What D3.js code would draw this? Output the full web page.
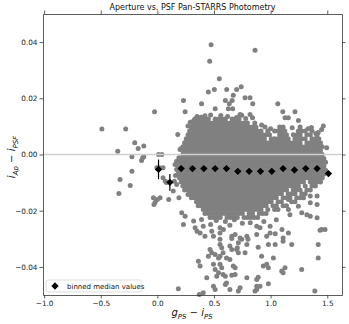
<!DOCTYPE html>
<html>
<head>
<meta charset="utf-8">
<script src="https://cdn.jsdelivr.net/npm/d3@7"></script>
<style>
  body { margin: 0; background: #fff; }
  svg { font-family: "DejaVu Sans", sans-serif; }
  .tick text { font-size: 7.3px; fill: #222; }
</style>
</head>
<body>
<div id="chart"></div>
<script>
// -------------------------------------------------------------------------
// Data

const xTicks = [-1.0, -0.5, 0.0, 0.5, 1.0, 1.5];
const yTicks = [-0.04, -0.02, 0.0, 0.02, 0.04];

// binned medians of i_Ap - i_PSF
const binCenters = [0.01, 0.11, 0.21, 0.31, 0.41, 0.51, 0.61, 0.71, 0.81, 0.91, 1.01, 1.11, 1.21, 1.31, 1.41, 1.51];
const binMedians = [-0.0053, -0.0099, -0.005, -0.005, -0.005, -0.005, -0.005, -0.006, -0.006, -0.006, -0.006, -0.005, -0.0055, -0.005, -0.005, -0.0068];
const binErrors = [0.0035, 0.003, 0.0008, 0.0006, 0.0005, 0.0005, 0.0005, 0.0005, 0.0005, 0.0005, 0.0006, 0.0006, 0.0007, 0.0008, 0.0009, 0.001];

// dense part of the cloud, one row of stars per y level
const coreRows = [
  [0.0126, [0.33, 0.36, 0.39, 0.42, 0.45, 0.51, 0.54, 0.57, 0.60, 0.66, 0.69, 0.72]],
  [0.0112, [0.315, 0.345, 0.375, 0.405, 0.435, 0.465, 0.495, 0.525, 0.555, 0.585, 0.615, 0.645, 0.675, 0.705, 0.735, 0.765, 0.795]],
  [0.0098, [0.30, 0.33, 0.36, 0.39, 0.42, 0.45, 0.48, 0.51, 0.54, 0.57, 0.60, 0.63, 0.66, 0.69, 0.72, 0.75, 0.78, 0.81, 0.84, 0.87, 1.11, 1.26]],
  [0.0084, [0.285, 0.315, 0.345, 0.375, 0.405, 0.435, 0.465, 0.495, 0.525, 0.555, 0.585, 0.615, 0.645, 0.675, 0.705, 0.735, 0.765, 0.795, 0.825, 0.855, 0.885, 0.915, 0.975, 1.035, 1.065, 1.095, 1.125, 1.245, 1.275, 1.305, 1.365]],
  [0.0070, [0.27, 0.30, 0.33, 0.36, 0.39, 0.42, 0.45, 0.48, 0.51, 0.54, 0.57, 0.60, 0.63, 0.66, 0.69, 0.72, 0.75, 0.78, 0.81, 0.84, 0.87, 0.90, 0.93, 0.96, 0.99, 1.08, 1.11, 1.14, 1.20, 1.23, 1.26, 1.32, 1.35, 1.41]],
  [0.0056, [0.255, 0.285, 0.315, 0.345, 0.375, 0.405, 0.435, 0.465, 0.495, 0.525, 0.555, 0.585, 0.615, 0.645, 0.675, 0.705, 0.735, 0.765, 0.795, 0.825, 0.855, 0.885, 0.915, 0.945, 1.005, 1.035, 1.065, 1.095, 1.125, 1.155, 1.215, 1.245, 1.275, 1.305, 1.365, 1.395, 1.425]],
  [0.0042, [0.24, 0.27, 0.30, 0.33, 0.36, 0.39, 0.42, 0.45, 0.48, 0.51, 0.54, 0.57, 0.60, 0.63, 0.66, 0.69, 0.72, 0.75, 0.78, 0.81, 0.84, 0.87, 0.90, 0.93, 0.96, 0.99, 1.02, 1.05, 1.08, 1.11, 1.14, 1.17, 1.20, 1.23, 1.26, 1.32, 1.35, 1.38, 1.41, 1.44]],
  [0.0028, [0.225, 0.255, 0.285, 0.315, 0.345, 0.375, 0.405, 0.435, 0.465, 0.495, 0.525, 0.555, 0.585, 0.615, 0.645, 0.675, 0.705, 0.735, 0.765, 0.795, 0.825, 0.855, 0.885, 0.915, 0.945, 0.975, 1.005, 1.035, 1.065, 1.095, 1.125, 1.155, 1.185, 1.215, 1.245, 1.275, 1.305, 1.335, 1.365, 1.395, 1.425, 1.455]],
  [0.0014, [0.24, 0.27, 0.30, 0.33, 0.36, 0.39, 0.42, 0.45, 0.48, 0.51, 0.54, 0.57, 0.60, 0.63, 0.66, 0.69, 0.72, 0.75, 0.78, 0.81, 0.84, 0.87, 0.90, 0.93, 0.96, 0.99, 1.02, 1.05, 1.08, 1.11, 1.14, 1.17, 1.20, 1.23, 1.26, 1.29, 1.32, 1.35, 1.38, 1.41, 1.44]],
  [0.0000, [0.225, 0.255, 0.285, 0.315, 0.345, 0.375, 0.405, 0.435, 0.465, 0.495, 0.525, 0.555, 0.585, 0.615, 0.645, 0.675, 0.705, 0.735, 0.765, 0.795, 0.825, 0.855, 0.885, 0.915, 0.945, 0.975, 1.005, 1.035, 1.065, 1.095, 1.125, 1.155, 1.185, 1.215, 1.245, 1.275, 1.305, 1.335, 1.365, 1.395, 1.425, 1.455]],
  [-0.0014, [0.21, 0.24, 0.27, 0.30, 0.33, 0.36, 0.39, 0.42, 0.45, 0.48, 0.51, 0.54, 0.57, 0.60, 0.63, 0.66, 0.69, 0.72, 0.75, 0.78, 0.81, 0.84, 0.87, 0.90, 0.93, 0.96, 0.99, 1.02, 1.05, 1.08, 1.11, 1.14, 1.17, 1.20, 1.23, 1.26, 1.29, 1.32, 1.35, 1.38, 1.41, 1.44, 1.47]],
  [-0.0028, [0.195, 0.225, 0.255, 0.285, 0.315, 0.345, 0.375, 0.405, 0.435, 0.465, 0.495, 0.525, 0.555, 0.585, 0.615, 0.645, 0.675, 0.705, 0.735, 0.765, 0.795, 0.825, 0.855, 0.885, 0.915, 0.945, 0.975, 1.005, 1.035, 1.065, 1.095, 1.125, 1.155, 1.185, 1.215, 1.245, 1.275, 1.305, 1.335, 1.365, 1.395, 1.425, 1.455, 1.485]],
  [-0.0042, [0.18, 0.21, 0.24, 0.27, 0.30, 0.33, 0.36, 0.39, 0.42, 0.45, 0.48, 0.51, 0.54, 0.57, 0.60, 0.63, 0.66, 0.69, 0.72, 0.75, 0.78, 0.81, 0.84, 0.87, 0.90, 0.93, 0.96, 0.99, 1.02, 1.05, 1.08, 1.11, 1.14, 1.17, 1.20, 1.23, 1.26, 1.29, 1.32, 1.35, 1.38, 1.41, 1.44, 1.47]],
  [-0.0056, [0.195, 0.225, 0.255, 0.285, 0.315, 0.345, 0.375, 0.405, 0.435, 0.465, 0.495, 0.525, 0.555, 0.585, 0.615, 0.645, 0.675, 0.705, 0.735, 0.765, 0.795, 0.825, 0.855, 0.885, 0.915, 0.945, 0.975, 1.005, 1.035, 1.065, 1.095, 1.125, 1.155, 1.185, 1.215, 1.245, 1.275, 1.305, 1.335, 1.365, 1.395, 1.425, 1.455, 1.485]],
  [-0.0070, [0.18, 0.21, 0.24, 0.27, 0.30, 0.33, 0.36, 0.39, 0.42, 0.45, 0.48, 0.51, 0.54, 0.57, 0.60, 0.63, 0.66, 0.69, 0.72, 0.75, 0.78, 0.81, 0.84, 0.87, 0.90, 0.93, 0.96, 0.99, 1.02, 1.05, 1.08, 1.11, 1.14, 1.17, 1.20, 1.23, 1.26, 1.29, 1.32, 1.35, 1.38, 1.41, 1.44, 1.47]],
  [-0.0084, [0.195, 0.225, 0.255, 0.285, 0.315, 0.345, 0.375, 0.405, 0.435, 0.465, 0.495, 0.525, 0.555, 0.585, 0.615, 0.645, 0.675, 0.705, 0.735, 0.765, 0.795, 0.825, 0.855, 0.885, 0.915, 0.945, 0.975, 1.005, 1.035, 1.065, 1.095, 1.125, 1.155, 1.185, 1.215, 1.245, 1.275, 1.305, 1.335, 1.365, 1.395, 1.425, 1.455]],
  [-0.0098, [0.21, 0.24, 0.27, 0.30, 0.33, 0.36, 0.39, 0.42, 0.45, 0.48, 0.51, 0.54, 0.57, 0.60, 0.63, 0.66, 0.69, 0.72, 0.75, 0.78, 0.81, 0.84, 0.87, 0.90, 0.93, 0.96, 0.99, 1.02, 1.05, 1.08, 1.11, 1.14, 1.17, 1.20, 1.23, 1.26, 1.29, 1.35, 1.38, 1.41, 1.44]],
  [-0.0112, [0.225, 0.255, 0.285, 0.315, 0.345, 0.375, 0.405, 0.435, 0.465, 0.495, 0.525, 0.555, 0.585, 0.615, 0.645, 0.675, 0.705, 0.735, 0.765, 0.795, 0.825, 0.855, 0.885, 0.915, 0.945, 0.975, 1.005, 1.035, 1.065, 1.095, 1.125, 1.155, 1.185, 1.215, 1.245, 1.305, 1.365, 1.395]],
  [-0.0126, [0.24, 0.27, 0.30, 0.33, 0.36, 0.39, 0.42, 0.45, 0.48, 0.51, 0.54, 0.57, 0.60, 0.63, 0.66, 0.69, 0.72, 0.75, 0.78, 0.81, 0.84, 0.87, 0.90, 0.93, 0.96, 0.99, 1.02, 1.05, 1.08, 1.11, 1.14, 1.20, 1.23, 1.26, 1.32, 1.35]],
  [-0.0140, [0.285, 0.315, 0.345, 0.375, 0.405, 0.435, 0.465, 0.495, 0.525, 0.555, 0.585, 0.615, 0.645, 0.675, 0.705, 0.735, 0.765, 0.795, 0.825, 0.855, 0.885, 0.915, 0.945, 0.975, 1.005, 1.035, 1.065, 1.095, 1.155, 1.185, 1.215, 1.275, 1.305]],
  [-0.0154, [0.30, 0.33, 0.36, 0.39, 0.42, 0.45, 0.48, 0.51, 0.54, 0.57, 0.60, 0.63, 0.66, 0.69, 0.72, 0.75, 0.78, 0.81, 0.84, 0.87, 0.90, 0.93, 0.96, 0.99, 1.02, 1.05, 1.11, 1.14, 1.17, 1.23, 1.26]],
  [-0.0168, [0.345, 0.375, 0.405, 0.435, 0.465, 0.495, 0.525, 0.555, 0.585, 0.615, 0.645, 0.675, 0.705, 0.735, 0.765, 0.795, 0.825, 0.855, 0.885, 0.915, 0.945, 0.975, 1.005, 1.065, 1.095, 1.185, 1.215]],
  [-0.0182, [0.36, 0.39, 0.42, 0.45, 0.48, 0.51, 0.54, 0.57, 0.60, 0.63, 0.66, 0.69, 0.72, 0.75, 0.78, 0.81, 0.84, 0.87, 0.90, 0.93, 0.96, 1.02, 1.05, 1.11, 1.14]],
  [-0.0196, [0.405, 0.435, 0.465, 0.495, 0.525, 0.555, 0.585, 0.615, 0.645, 0.675, 0.705, 0.735, 0.765, 0.795, 0.825, 0.855, 0.885, 0.915, 0.975, 1.035, 1.065]],
  [-0.0210, [0.42, 0.45, 0.48, 0.51, 0.54, 0.57, 0.60, 0.63, 0.66, 0.69, 0.72, 0.75, 0.81, 0.84, 0.90, 0.93, 0.96]],
  [-0.0224, [0.465, 0.495, 0.525, 0.555, 0.615, 0.645, 0.675, 0.705, 0.765, 0.795, 0.825, 0.855, 0.885]]
];

// isolated stars around the dense part, [g-i, iAp-iPSF]
const sparsePoints = [
  [-0.49, 0.0091], [-0.28, 0.0091], [-0.35, 0.0012], [-0.20, 0.0042], [-0.17, 0.0021], [-0.225, -0.0008],
  [-0.12, -0.0008], [-0.13, -0.0012], [-0.025, 0.0152], [0.01, 0.0], [0.04, 0.0], [-0.12, 0.003],
  [0.474, 0.0391], [0.862, 0.0371], [0.462, 0.0332], [0.547, 0.027], [0.45, 0.0222], [0.503, 0.0231],
  [0.612, 0.0231], [0.70, 0.0231], [0.74, 0.0241], [0.67, 0.0211], [0.66, 0.0192], [0.60, 0.0192],
  [0.635, 0.0181], [0.774, 0.0202], [0.818, 0.0202], [0.842, 0.0181], [0.23, 0.0192], [0.245, 0.0152],
  [0.39, 0.0181], [0.51, 0.0163], [0.627, 0.0163], [0.665, 0.0163], [1.063, 0.0181], [1.107, 0.0152],
  [1.215, 0.0152], [1.127, 0.0131], [1.156, 0.0131], [1.245, 0.0121], [0.386, 0.0133], [0.818, 0.0142],
  [0.84, 0.0131], [0.73, 0.0142], [0.18, 0.0071], [1.465, 0.0101], [1.45, 0.0089], [1.495, 0.0024],
  [0.21, 0.0021], [0.32, 0.012], [0.745, 0.014], [1.40, 0.0075], [1.42, 0.0078], [0.215, 0.002],
  [0.23, 0.0006], [0.19, -0.0012], [0.17, -0.0024], [0.20, 0.0018],
  [0.35, 0.0135], [0.42, 0.0138], [0.47, 0.0141], [0.56, 0.0139], [0.62, 0.0135], [0.70, 0.0132],
  [0.78, 0.0128], [0.86, 0.0112], [0.95, 0.0098], [1.0, 0.0092], [0.92, 0.0105], [1.08, 0.0098],
  [1.19, 0.0095], [1.33, 0.0092], [1.36, 0.0096], [0.29, 0.0115], [0.27, 0.0101],
  [-0.33, -0.0089], [-0.24, -0.011], [-0.225, -0.006], [-0.34, -0.0139], [-0.14, -0.0021], [-0.03, -0.0178],
  [0.0, -0.016], [0.10, -0.016], [0.05, -0.0083], [0.07, -0.0095], [0.08, -0.010], [0.14, -0.013],
  [-0.005, -0.0047], [0.02, -0.0047], [0.05, -0.0047], [-0.02, -0.017], [0.19, -0.0154], [0.215, -0.0207],
  [0.15, -0.0095], [0.16, -0.0075], [0.156, -0.0036], [0.17, -0.0053], [0.17, -0.0107], [0.27, -0.0142],
  [-0.035, -0.0154], [0.024, -0.0154],
  [0.245, -0.022], [0.23, -0.0249], [0.32, -0.0237], [0.333, -0.0261], [0.39, -0.0231], [0.405, -0.0255],
  [0.377, -0.0279], [0.42, -0.0291], [0.48, -0.0273], [0.495, -0.0291], [0.553, -0.0261], [0.583, -0.0267],
  [0.657, -0.0291], [0.686, -0.0285], [0.73, -0.0297], [0.79, -0.0291], [0.80, -0.0302], [0.82, -0.0243],
  [0.877, -0.0255], [0.906, -0.0261], [0.995, -0.0255], [0.995, -0.0279], [1.10, -0.0267], [1.11, -0.0297],
  [1.157, -0.0196], [1.17, -0.0214], [1.245, -0.0184], [1.275, -0.0207], [1.32, -0.0214], [1.35, -0.022],
  [1.41, -0.0225], [1.45, -0.0267], [1.48, -0.0267], [1.35, -0.0172], [1.41, -0.0178], [1.29, -0.0154],
  [1.35, -0.0148], [1.157, -0.016], [1.41, -0.0148], [0.553, -0.0302], [0.52, -0.0235], [0.60, -0.0238],
  [0.68, -0.0232], [0.75, -0.0245], [0.94, -0.0238], [1.05, -0.0232], [0.47, -0.0249], [0.64, -0.0252],
  [0.35, -0.0273], [0.553, -0.0279], [0.657, -0.0299], [0.745, -0.0302], [0.877, -0.0285], [0.965, -0.0291],
  [1.04, -0.0282], [1.157, -0.0279], [1.11, -0.0309], [1.186, -0.032], [0.98, -0.032], [1.04, -0.032],
  [0.89, -0.033], [0.79, -0.032], [0.715, -0.0314], [0.706, -0.0332], [0.64, -0.0326], [0.657, -0.0338],
  [0.553, -0.032], [0.568, -0.0332], [0.465, -0.0338], [0.48, -0.035], [0.45, -0.0362], [0.51, -0.0356],
  [0.54, -0.0368], [0.553, -0.0362], [0.58, -0.035], [0.61, -0.0368], [0.64, -0.0374], [0.70, -0.0338],
  [0.715, -0.035], [0.774, -0.035], [0.92, -0.0362], [0.935, -0.0397], [0.965, -0.0391], [0.98, -0.0403],
  [1.024, -0.0368], [1.098, -0.0415], [1.11, -0.0421], [1.127, -0.0403], [1.274, -0.0409], [0.362, -0.038],
  [0.377, -0.0397], [0.495, -0.0391], [0.51, -0.0409], [0.553, -0.0391], [0.568, -0.0403], [0.67, -0.0397],
  [0.686, -0.0403], [0.54, -0.0421], [0.524, -0.0433], [0.436, -0.0439], [0.58, -0.0427], [0.60, -0.0433],
  [0.657, -0.043], [0.686, -0.0427], [0.79, -0.0439], [0.877, -0.0445], [0.89, -0.0437], [0.98, -0.046],
  [0.877, -0.0469], [0.906, -0.0469], [0.185, -0.0478], [0.405, -0.0492], [0.37, -0.0498], [0.495, -0.0469],
  [0.51, -0.048], [0.60, -0.0463], [0.61, -0.0457], [0.64, -0.048], [0.73, -0.0474], [0.715, -0.0486],
  [0.862, -0.0486], [0.877, -0.048], [1.436, -0.027], [1.42, -0.032], [1.42, -0.0368], [1.39, -0.0486]
];

// -------------------------------------------------------------------------
// Layout

const width = 349;
const height = 324;
const plot = { left: 43, right: 342, top: 14, bottom: 295 };
const pointColor = '#808080';

const svg = d3.select('#chart').append('svg')
  .attr('width', width)
  .attr('height', height);

const x = d3.scaleLinear().domain([-1.01, 1.63]).range([plot.left, plot.right]);
const y = d3.scaleLinear().domain([-0.05, 0.05]).range([plot.bottom, plot.top]);

// -------------------------------------------------------------------------
// Scatter

const allPoints = coreRows
  .flatMap(row => row[1].map(gx => [gx, row[0]]))
  .concat(sparsePoints);

svg.append('g')
  .selectAll('circle')
  .data(allPoints)
  .enter()
  .append('circle')
  .attr('cx', d => x(d[0]))
  .attr('cy', d => y(d[1]))
  .attr('r', 2.5)
  .attr('fill', pointColor);

// zero line
svg.append('line')
  .attr('x1', plot.left)
  .attr('x2', plot.right)
  .attr('y1', y(0))
  .attr('y2', y(0))
  .attr('stroke', '#d0d0d0')
  .attr('stroke-width', 1.6);

// binned medians with error bars
const bins = binCenters.map((c, i) => ({ c: c, m: binMedians[i], e: binErrors[i] }));
const binGroup = svg.append('g');
binGroup.selectAll('.err')
  .data(bins)
  .enter()
  .append('line')
  .attr('class', 'err')
  .attr('x1', d => x(d.c))
  .attr('x2', d => x(d.c))
  .attr('y1', d => y(d.m + d.e))
  .attr('y2', d => y(d.m - d.e))
  .attr('stroke', '#000')
  .attr('stroke-width', 1.2);

const diamond = d3.symbol().type(d3.symbolSquare).size(27);
binGroup.selectAll('.med')
  .data(bins)
  .enter()
  .append('path')
  .attr('class', 'med')
  .attr('d', diamond)
  .attr('transform', d => `translate(${x(d.c)},${y(d.m)}) rotate(45)`)
  .attr('fill', '#000');

// -------------------------------------------------------------------------
// Axes

const fmtX = d3.format('.1f');
const fmtY = d3.format('.2f');

function styleAxis(g) {
  g.select('.domain').attr('stroke', '#333').attr('stroke-width', 0.8);
  g.selectAll('.tick line').attr('stroke', '#333').attr('stroke-width', 0.8);
}

svg.append('g')
  .attr('transform', `translate(0,${plot.bottom})`)
  .call(d3.axisBottom(x).tickValues(xTicks).tickFormat(fmtX).tickSize(3.5).tickSizeOuter(0).tickPadding(2))
  .call(styleAxis)
  .call(g => g.selectAll('text').attr('font-family', 'DejaVu Sans').attr('font-size', 7.3));

svg.append('g')
  .attr('transform', `translate(${plot.left},0)`)
  .call(d3.axisLeft(y).tickValues(yTicks).tickFormat(fmtY).tickSize(3.5).tickSizeOuter(0).tickPadding(2))
  .call(styleAxis)
  .call(g => g.selectAll('text').attr('font-family', 'DejaVu Sans').attr('font-size', 7.3));

svg.append('g')
  .attr('transform', `translate(0,${plot.top})`)
  .call(d3.axisTop(x).tickValues(xTicks).tickFormat('').tickSize(3.5).tickSizeOuter(0))
  .call(styleAxis);

svg.append('g')
  .attr('transform', `translate(${plot.right},0)`)
  .call(d3.axisRight(y).tickValues(yTicks).tickFormat('').tickSize(3.5).tickSizeOuter(0))
  .call(styleAxis);

// -------------------------------------------------------------------------
// Labels

svg.append('text')
  .attr('x', (plot.left + plot.right) / 2)
  .attr('y', 10)
  .attr('text-anchor', 'middle')
  .attr('font-size', 8)
  .attr('fill', '#111')
  .text('Aperture vs. PSF Pan-STARRS Photometry');

function mathLabel(sel, a, subA, b, subB) {
  sel.append('tspan').attr('font-style', 'italic').text(a);
  sel.append('tspan').attr('font-style', 'italic').attr('font-size', 7).attr('dy', 2.5).text(subA);
  sel.append('tspan').attr('dy', -2.5).text(' \u2212 ');
  sel.append('tspan').attr('font-style', 'italic').text(b);
  sel.append('tspan').attr('font-style', 'italic').attr('font-size', 7).attr('dy', 2.5).text(subB);
}

const xLabel = svg.append('text')
  .attr('x', 192)
  .attr('y', 316)
  .attr('text-anchor', 'middle')
  .attr('font-size', 10)
  .attr('fill', '#111');
mathLabel(xLabel, 'g', 'PS', 'i', 'PS');

const yLabel = svg.append('text')
  .attr('transform', 'translate(15,157) rotate(-90)')
  .attr('text-anchor', 'middle')
  .attr('font-size', 10)
  .attr('fill', '#111');
mathLabel(yLabel, 'i', 'Ap', 'i', 'PSF');

// -------------------------------------------------------------------------
// Legend

const legend = svg.append('g').attr('transform', 'translate(46,280)');
legend.append('rect')
  .attr('width', 96)
  .attr('height', 12)
  .attr('rx', 2)
  .attr('fill', '#fff')
  .attr('fill-opacity', 0.8)
  .attr('stroke', '#d6d6d6')
  .attr('stroke-width', 0.8);
legend.append('path')
  .attr('d', diamond)
  .attr('transform', 'translate(9,6) rotate(45)')
  .attr('fill', '#000');
legend.append('text')
  .attr('x', 21)
  .attr('y', 8.6)
  .attr('font-size', 7)
  .attr('fill', '#111')
  .text('binned median values');
</script>
</body>
</html>
